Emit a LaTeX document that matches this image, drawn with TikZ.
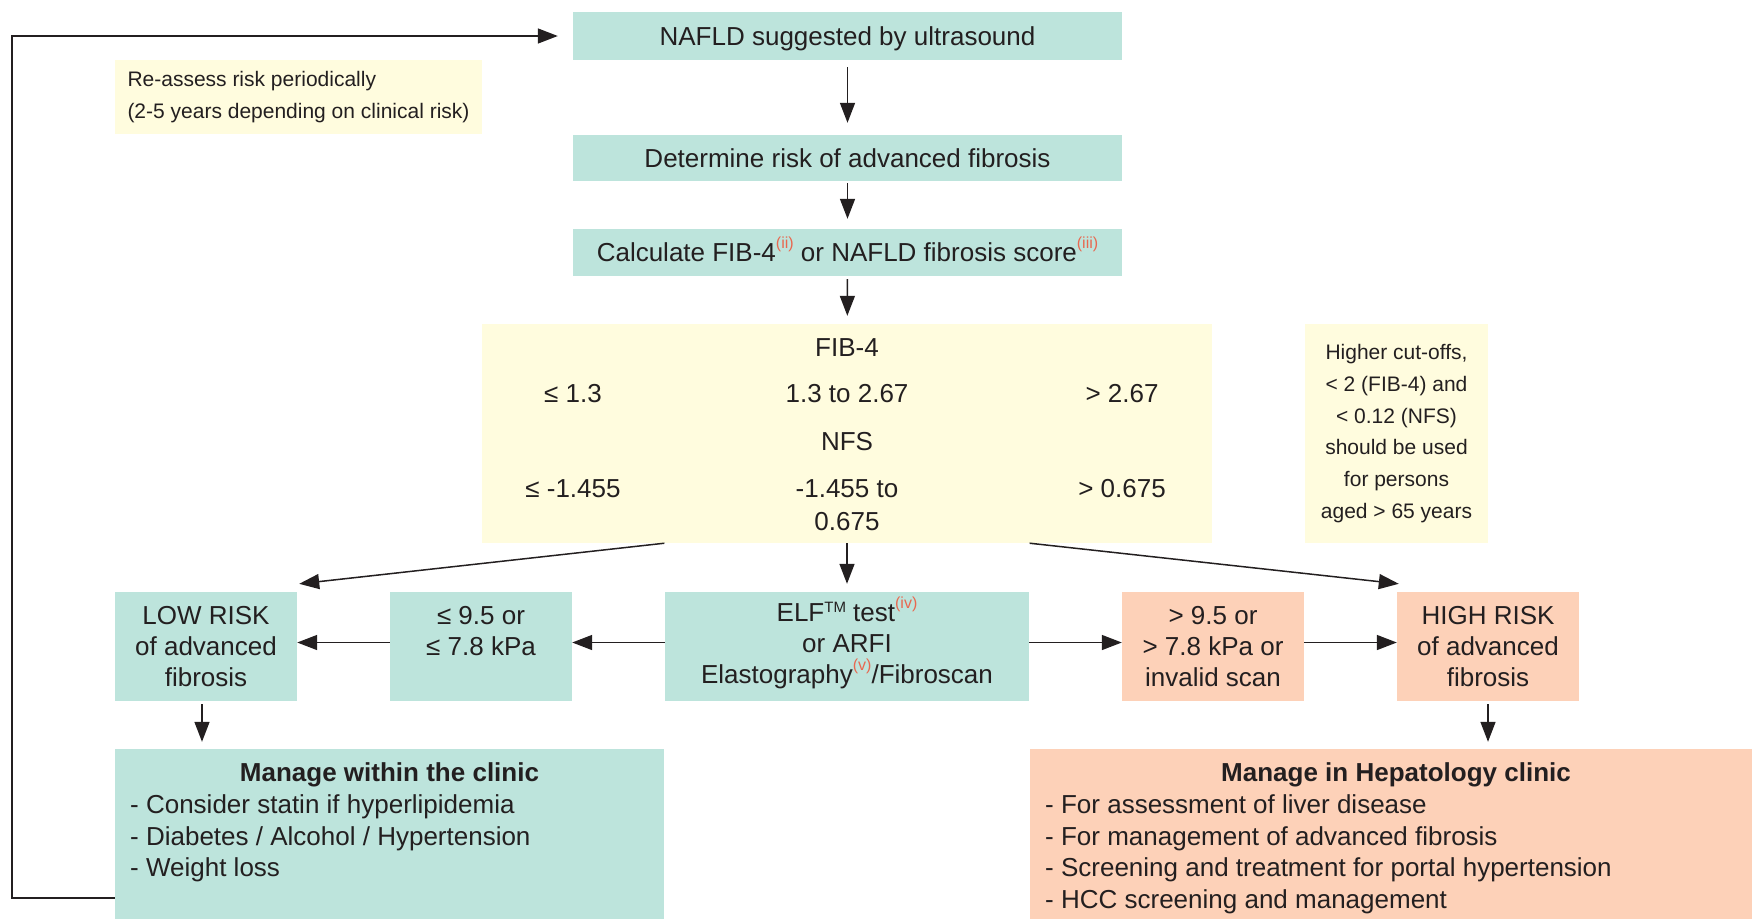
\documentclass[tikz,border=0pt]{standalone}
\usepackage{fontspec}
\setmainfont{Liberation Sans}
\usetikzlibrary{arrows.meta,calc}

\definecolor{boxteal}{RGB}{189,228,220}
\definecolor{boxyellow}{RGB}{255,252,222}
\definecolor{boxsalmon}{RGB}{253,209,184}
\definecolor{refred}{RGB}{232,104,80}
\definecolor{ink}{RGB}{35,31,32}

\newcommand{\mainsz}{\fontsize{26}{31}\selectfont}
\newcommand{\smallsz}{\fontsize{21}{31.7}\selectfont}
% reference marks and trademark, raised without changing line height
\newcommand{\refsup}[1]{\raisebox{13pt}[0pt][0pt]{\fontsize{16}{16}\selectfont\color{refred}(#1)}}
\newcommand{\tmsup}{\raisebox{9pt}[0pt][0pt]{\fontsize{15}{15}\selectfont TM}}

\begin{document}
\begin{tikzpicture}[x=1pt,y=-1pt,
  box/.style={inner sep=0pt, text=ink, font=\mainsz, align=center},
  oneline/.style={text height=18.6pt, text depth=0pt},
  tealbox/.style={box, fill=boxteal},
  yelbox/.style={box, fill=boxyellow},
  salbox/.style={box, fill=boxsalmon},
  lbl/.style={inner sep=0pt, text=ink, font=\mainsz, oneline},
  arr/.style={draw=ink, line width=1.5pt, -{Triangle[length=20pt,width=15pt]}}
]
\useasboundingbox (0,0) rectangle (1752,919);

% top chain
\node[tealbox, oneline, minimum width=549pt, minimum height=48pt] (nafld) at (847.5,36) {NAFLD suggested by ultrasound};
\node[yelbox, font=\smallsz, align=left, minimum width=367pt, minimum height=74pt] (reassess) at (298.5,97)
  {Re-assess risk periodically\\(2-5 years depending on clinical risk)};
\node[tealbox, oneline, minimum width=549pt, minimum height=46pt] (determine) at (847.5,158) {Determine risk of advanced fibrosis};
\node[tealbox, oneline, minimum width=549pt, minimum height=47pt] (calc) at (847.5,252.5)
  {Calculate FIB-4\refsup{ii} or NAFLD fibrosis score\refsup{iii}};

% score thresholds
\node[yelbox, minimum width=730pt, minimum height=219pt] (fib) at (847,433.5) {};
\node[lbl] (fibhead) at (847,347.5) {FIB-4};
\node[lbl] (fiblo) at (573,393) {≤ 1.3};
\node[lbl] (fibmid) at (847,393) {1.3 to 2.67};
\node[lbl] (fibhi) at (1122,393) {> 2.67};
\node[lbl] (nfshead) at (847,441) {NFS};
\node[lbl] (nfslo) at (573,488) {≤ -1.455};
\node[lbl] (nfsmid) at (847,488) {-1.455 to};
\node[lbl] (nfsmidb) at (847,521) {0.675};
\node[lbl] (nfshi) at (1122,488) {> 0.675};

\node[yelbox, font=\smallsz, minimum width=183pt, minimum height=219pt] (cutoff) at (1396.5,433.5)
  {Higher cut-offs,\\< 2 (FIB-4) and\\< 0.12 (NFS)\\should be used\\for persons\\aged > 65 years};

% risk row
\node[tealbox, minimum width=182pt, minimum height=109pt] (low) at (206,646.5) {LOW RISK\\of advanced\\fibrosis};
\node[tealbox, minimum width=182pt, minimum height=109pt] (lowcut) at (481,646.5) {≤ 9.5 or\\≤ 7.8 kPa\\\phantom{x}};
\node[tealbox, minimum width=364pt, minimum height=109pt] (elf) at (847,646.5)
  {ELF\tmsup{} test\refsup{iv}\\or ARFI\\Elastography\refsup{v}/Fibroscan};
\node[salbox, minimum width=182pt, minimum height=109pt] (highcut) at (1213,646.5) {> 9.5 or\\> 7.8 kPa or\\invalid scan};
\node[salbox, minimum width=182pt, minimum height=109pt] (high) at (1488,646.5) {HIGH RISK\\of advanced\\fibrosis};

% management boxes
\node[tealbox, minimum width=549pt, minimum height=170pt] (manage) at (389.5,834) {};
\node[lbl, font=\mainsz\bfseries] (managetitle) at (389.5,772) {Manage within the clinic};
\node[lbl, anchor=west] (mA) at (130,804.5) {- Consider statin if hyperlipidemia};
\node[lbl, anchor=west] (mB) at (130,836) {- Diabetes / Alcohol / Hypertension};
\node[lbl, anchor=west] (mC) at (130,867) {- Weight loss};

\node[salbox, minimum width=722pt, minimum height=170pt] (hep) at (1391,834) {};
\node[lbl, font=\mainsz\bfseries] (heptitle) at (1396,772) {Manage in Hepatology clinic};
\node[lbl, anchor=west] (hA) at (1045,804.5) {- For assessment of liver disease};
\node[lbl, anchor=west] (hB) at (1045,836) {- For management of advanced fibrosis};
\node[lbl, anchor=west] (hC) at (1045,867) {- Screening and treatment for portal hypertension};
\node[lbl, anchor=west] (hD) at (1045,899) {- HCC screening and management};

% connectors
\draw[arr, shorten <=7pt, shorten >=12pt] (nafld) -- (determine);
\draw[arr, shorten <=2pt, shorten >=10pt] (determine) -- (calc);
\draw[arr, shorten <=3pt, shorten >=8pt] (calc) -- (fib);
\draw[arr, shorten >=8pt] (fib) -- (elf);
\draw[arr] ($(fib.south west)!0.25!(fib.south east)$) -- ([xshift=2pt,yshift=8pt]low.north east);
\draw[arr] ($(fib.south west)!0.75!(fib.south east)$) -- ([xshift=2pt,yshift=8pt]high.north west);

\draw[arr] ([yshift=4pt]elf.west) -- ([yshift=4pt]lowcut.east);
\draw[arr] ([yshift=4pt]lowcut.west) -- ([yshift=4pt]low.east);
\draw[arr] ([yshift=4pt]elf.east) -- ([yshift=4pt]highcut.west);
\draw[arr] ([yshift=4pt]highcut.east) -- ([yshift=4pt]high.west);

\draw[arr, shorten <=3pt, shorten >=7pt] ([xshift=-4pt]low.south) -- ([xshift=-4pt]low.south |- manage.north);
\draw[arr, shorten <=3pt, shorten >=7pt] (high.south) -- (high.south |- hep.north);

% periodic re-assessment loop
\draw[arr] ([yshift=21pt]manage.south west) -- ++(-103pt,0) |- ([xshift=-15pt]nafld.west);
\end{tikzpicture}
\end{document}
